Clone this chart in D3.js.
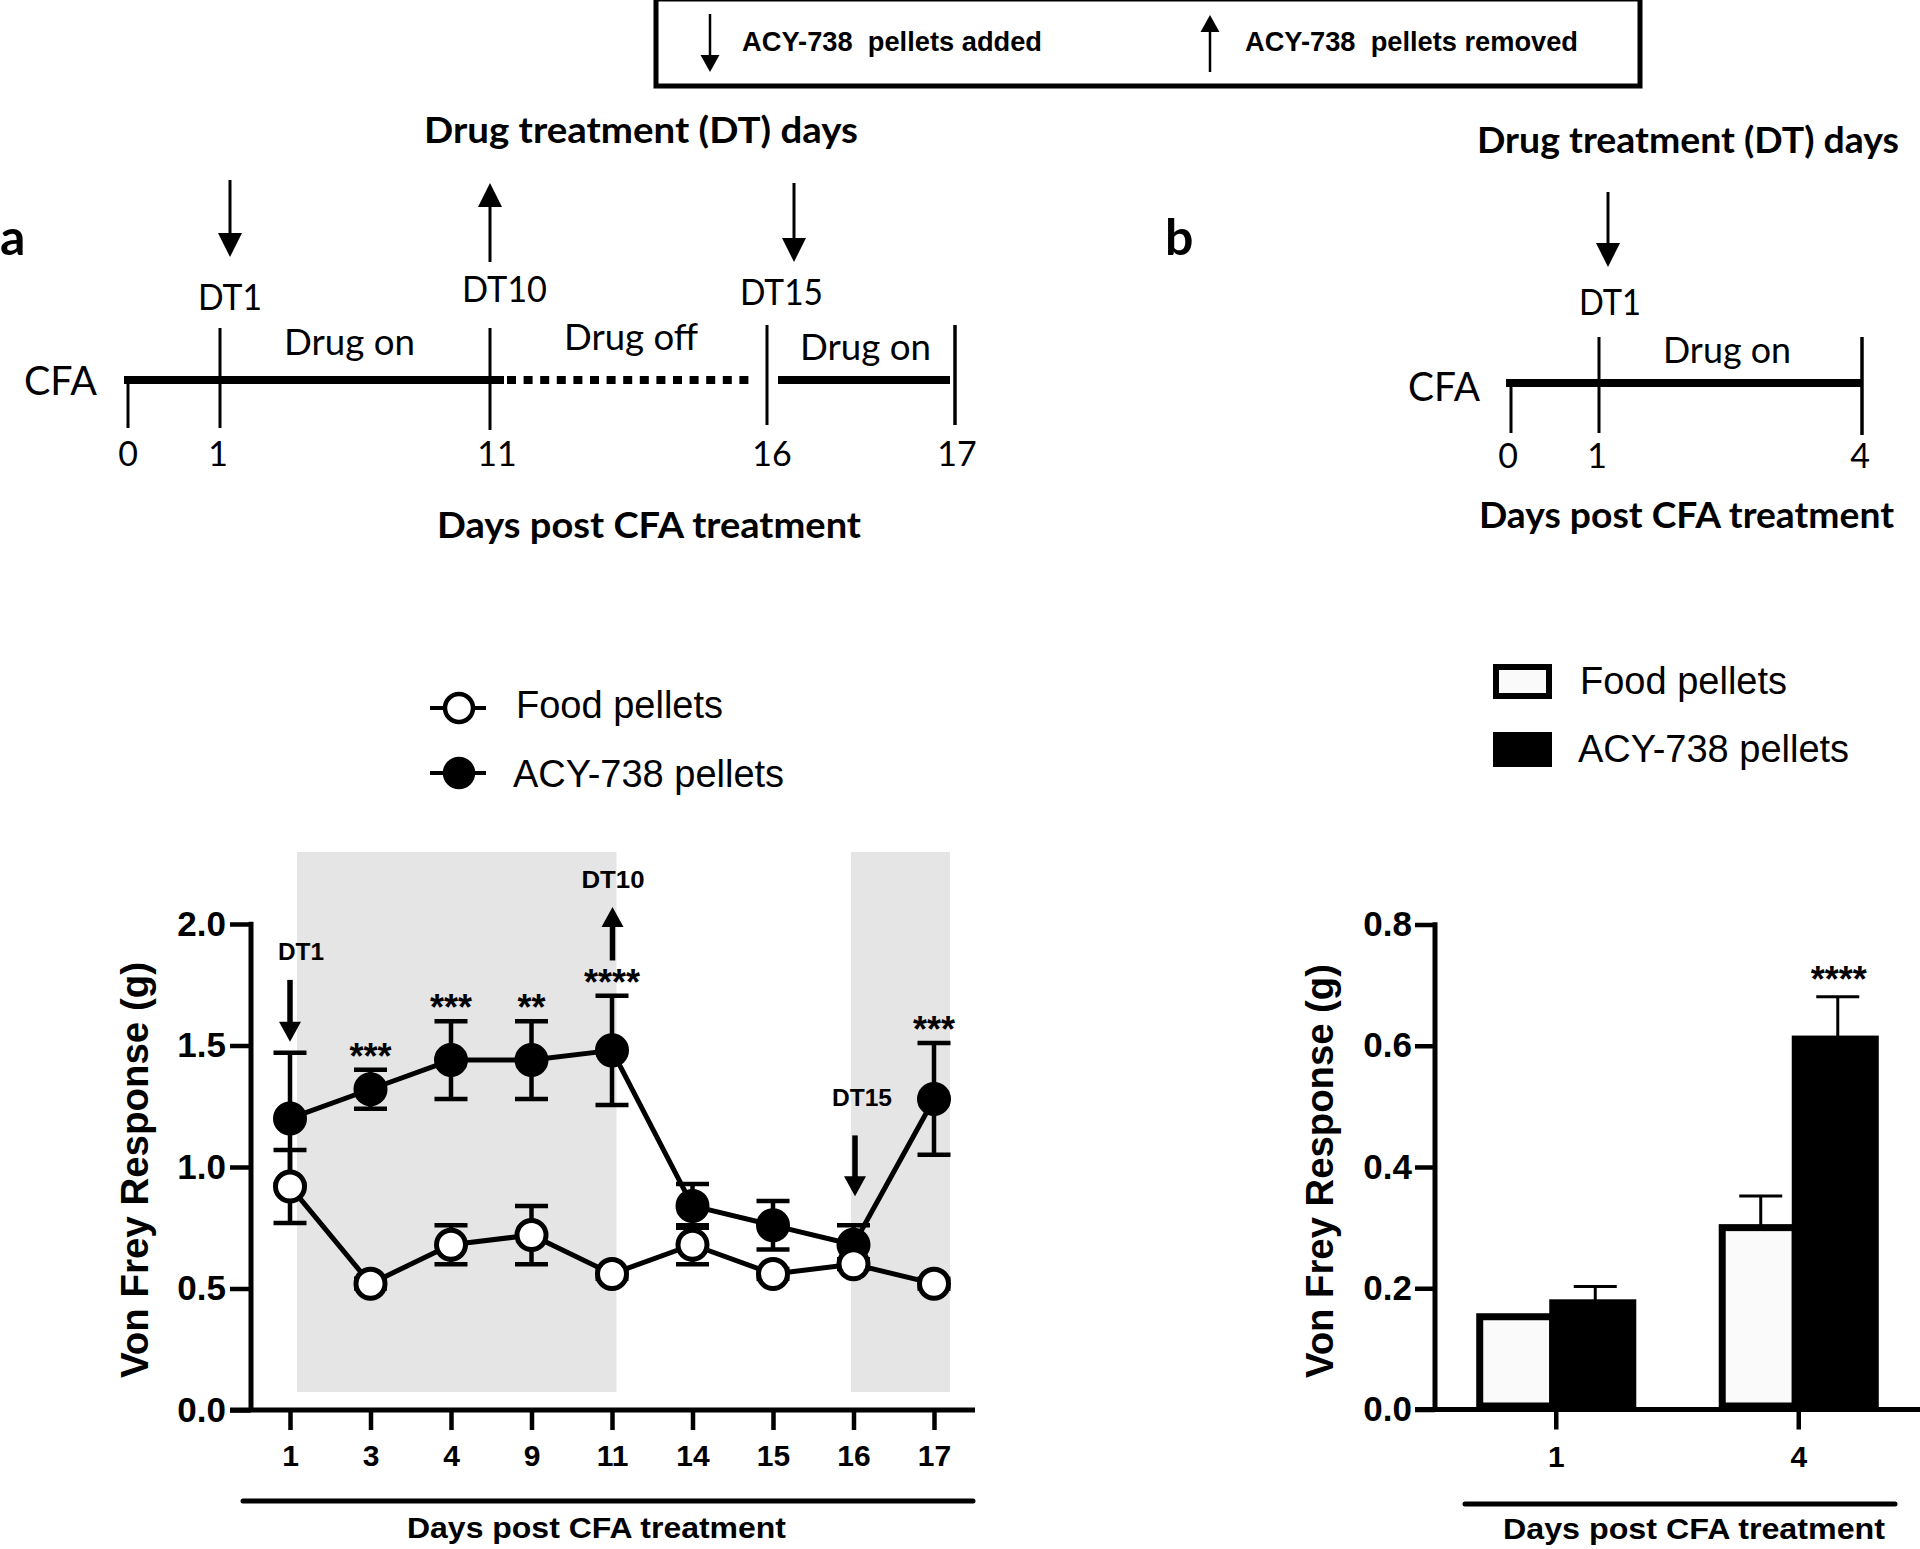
<!DOCTYPE html>
<html><head><meta charset="utf-8">
<script src="https://cdn.jsdelivr.net/npm/d3@7"></script>
<style>body{margin:0;background:#fff}svg{display:block}</style>
</head><body>
<svg id="c" width="1920" height="1549"></svg>
<script>
// ---------------- data ----------------
// Panel a (line chart)
const daysA = ["1","3","4","9","11","14","15","16","17"];
const foodMeanA = [0.92, 0.52, 0.68, 0.72, 0.56, 0.68, 0.56, 0.60, 0.52];
const foodSemA  = [0.15, 0.02, 0.08, 0.12, 0.02, 0.08, 0.02, 0.02, 0.02];
const acyMeanA  = [1.20, 1.32, 1.44, 1.44, 1.48, 0.84, 0.76, 0.68, 1.28];
const acySemA   = [0.27, 0.08, 0.16, 0.16, 0.225, 0.09, 0.10, 0.08, 0.23];
const sigA      = ["", "***", "***", "**", "****", "", "", "", "***"];
const yTicksA   = [0, 0.5, 1.0, 1.5, 2.0];
const drugOnA   = [["1","11"], ["16","17"]];
const annotA = [
  {day:"1",  label:"DT1",  dir:"down", yText:1.85, yFrom:1.77, yTo:1.515},
  {day:"11", label:"DT10", dir:"up",   yText:2.15, yFrom:1.85, yTo:2.07},
  {day:"16", label:"DT15", dir:"down", yText:1.25, yFrom:1.13, yTo:0.88}
];
// Panel b (bar chart)
const daysB     = ["1","4"];
const foodMeanB = [0.153, 0.30];
const foodSemB  = [0.0, 0.052];
const acyMeanB  = [0.176, 0.611];
const acySemB   = [0.027, 0.07];
const sigB      = ["", "****"];
const yTicksB   = [0, 0.2, 0.4, 0.6, 0.8];
// Timelines
const tlDaysA = [0, 1, 11, 16, 17];
const tlDaysB = [0, 1, 4];
const seriesNames = ["Food pellets", "ACY-738 pellets"];

// ---------------- helpers ----------------
const ARIAL = "'Liberation Sans', Arial, Helvetica, sans-serif";
const CAL = "Lato, 'Noto Sans', sans-serif";
const svg = d3.select("#c");

function txt(g, s, x, y, o = {}) {
  const t = g.append("text").attr("x", x).attr("y", y).text(s)
    .attr("font-family", o.family || ARIAL)
    .attr("font-size", o.size || 30)
    .attr("font-weight", o.weight || "normal")
    .attr("text-anchor", o.anchor || "start")
    .attr("fill", "#000");
  if (o.len) t.attr("textLength", o.len).attr("lengthAdjust", "spacingAndGlyphs");
  return t;
}
function arrow(g, x, yTail, yTip, headLen, headW, sw) {
  const dir = Math.sign(yTip - yTail);
  g.append("line").attr("x1", x).attr("x2", x)
    .attr("y1", yTail).attr("y2", yTip - dir * headLen * 0.8)
    .attr("stroke", "#000").attr("stroke-width", sw);
  g.append("path")
    .attr("d", `M${x - headW/2},${yTip - dir*headLen} L${x + headW/2},${yTip - dir*headLen} L${x},${yTip} Z`)
    .attr("fill", "#000");
}
function vline(g, x, y1, y2, sw) {
  g.append("line").attr("x1", x).attr("x2", x).attr("y1", y1).attr("y2", y2)
    .attr("stroke", "#000").attr("stroke-width", sw);
}
function hline(g, x1, x2, y, sw, cap) {
  return g.append("line").attr("x1", x1).attr("x2", x2).attr("y1", y).attr("y2", y)
    .attr("stroke", "#000").attr("stroke-width", sw).attr("stroke-linecap", cap || "butt");
}

// ---------------- top key box ----------------
const keyBox = svg.append("g");
keyBox.append("rect").attr("x", 656).attr("y", -1).attr("width", 984).attr("height", 87)
  .attr("fill", "#fff").attr("stroke", "#000").attr("stroke-width", 5);
arrow(keyBox, 710, 14, 72, 17, 19, 2.5);
txt(keyBox, "ACY-738\u00a0 pellets added", 742, 51, {size: 28, weight: "bold", len: 300});
arrow(keyBox, 1210, 72, 15, 17, 19, 2.5);
txt(keyBox, "ACY-738\u00a0 pellets removed", 1245, 51, {size: 28, weight: "bold", len: 333});

// ---------------- panel labels ----------------
txt(svg, "a", 0, 255, {family: CAL, size: 50, weight: "bold"});
txt(svg, "b", 1165, 255, {family: CAL, size: 50, weight: "bold"});

// ---------------- timeline a ----------------
(function () {
  const g = svg.append("g");
  const pos = d3.scaleOrdinal().domain(tlDaysA).range([128, 220, 490, 767, 955]);
  const yL = 380;
  txt(g, "Drug treatment (DT) days", 424, 143, {family: CAL, size: 37, weight: "bold", len: 434});
  txt(g, "CFA", 24, 395, {family: CAL, size: 40, len: 73});
  hline(g, pos(0) - 4, pos(11) + 14, yL, 8);
  hline(g, pos(11) + 17, pos(16) - 11, yL, 8).attr("stroke-dasharray", "9,7.6");
  hline(g, pos(16) + 11, pos(17) - 5, yL, 8);
  vline(g, pos(0), yL - 3, 428, 3);
  vline(g, pos(1), 328, 428, 3);
  vline(g, pos(11), 328, 430, 3);
  vline(g, pos(16), 325, 425, 3);
  vline(g, pos(17), 325, 425, 3.5);
  const numDx = {0: 0, 1: -2, 11: 7, 16: 5, 17: 2};
  tlDaysA.forEach(d => txt(g, String(d), pos(d) + numDx[d], 466, {family: CAL, size: 34, anchor: "middle"}));
  txt(g, "DT1", 198, 310, {family: CAL, size: 36, len: 64});
  txt(g, "DT10", 462, 302, {family: CAL, size: 36, len: 85});
  txt(g, "DT15", 740, 305, {family: CAL, size: 36, len: 83});
  arrow(g, 230, 180, 257, 24, 24, 3);
  arrow(g, 490, 262, 183, 24, 24, 3);
  arrow(g, 794, 183, 262, 24, 24, 3);
  txt(g, "Drug on", 284, 355, {family: CAL, size: 36, len: 131});
  txt(g, "Drug off", 564, 350, {family: CAL, size: 36, len: 134});
  txt(g, "Drug on", 800, 360, {family: CAL, size: 36, len: 131});
  txt(g, "Days post CFA treatment", 437, 538, {family: CAL, size: 37, weight: "bold", len: 424});
})();

// ---------------- timeline b ----------------
(function () {
  const g = svg.append("g");
  const pos = d3.scaleOrdinal().domain(tlDaysB).range([1511, 1599, 1862]);
  const yL = 383;
  txt(g, "Drug treatment (DT) days", 1477, 153, {family: CAL, size: 37, weight: "bold", len: 422});
  txt(g, "CFA", 1408, 401, {family: CAL, size: 40, len: 72});
  hline(g, pos(0) - 5, pos(4), yL, 8);
  vline(g, pos(0), yL, 433, 3);
  vline(g, pos(1), 337, 433, 3);
  vline(g, pos(4), 337, 435, 3.5);
  const numDx = {0: -3, 1: -2, 4: -2};
  tlDaysB.forEach(d => txt(g, String(d), pos(d) + numDx[d], 468, {family: CAL, size: 34, anchor: "middle"}));
  txt(g, "DT1", 1579, 315, {family: CAL, size: 36, len: 62});
  arrow(g, 1608, 192, 267, 24, 24, 3);
  txt(g, "Drug on", 1663, 363, {family: CAL, size: 36, len: 128});
  txt(g, "Days post CFA treatment", 1479, 528, {family: CAL, size: 37, weight: "bold", len: 415});
})();

// ---------------- panel a chart ----------------
(function () {
  const g = svg.append("g");
  const yA = d3.scaleLinear().domain([0, 2]).range([1410, 924]);
  const xA = d3.scalePoint().domain(daysA).range([290, 934]);

  const padL = [7, -2.5], padR = [4.5, 16];
  drugOnA.forEach((p, i) => {
    g.append("rect")
      .attr("x", xA(p[0]) + padL[i]).attr("width", xA(p[1]) + padR[i] - xA(p[0]) - padL[i])
      .attr("y", yA(2) - 72).attr("height", (yA(0) - 18) - (yA(2) - 72))
      .attr("fill", "#e5e5e5");
  });

  const ay = g.append("g").attr("transform", "translate(251,0)")
    .call(d3.axisLeft(yA).tickValues(yTicksA).tickFormat(d3.format(".1f")).tickSize(21).tickPadding(4));
  const ax = g.append("g").attr("transform", `translate(0,${yA(0)})`)
    .call(d3.axisBottom(xA).tickSize(20).tickPadding(15));
  [ay, ax].forEach(a => {
    a.select(".domain").remove();
    a.selectAll(".tick line").attr("stroke", "#000").attr("stroke-width", 4.5);
    a.selectAll(".tick text").attr("fill", "#000").attr("font-family", ARIAL).attr("font-weight", "bold");
  });
  ay.selectAll(".tick text").attr("font-size", 35);
  ax.selectAll(".tick text").attr("font-size", 30);
  vline(g, 251, yA(2) - 2.25, yA(0), 5);
  hline(g, 230, 975, yA(0), 5);

  txt(g.append("g").attr("transform", "translate(148,1170) rotate(-90)"),
      "Von Frey Response (g)", -208, 0, {size: 38, weight: "bold", len: 416});
  hline(g, 243, 973, 1501, 5, "round");
  txt(g, "Days post CFA treatment", 407, 1538, {size: 29, weight: "bold", len: 379});

  const series = [
    {mean: acyMeanA, sem: acySemA, fill: "#000"},
    {mean: foodMeanA, sem: foodSemA, fill: "#fff"}
  ];
  series.forEach(s => {
    daysA.forEach((d, i) => {
      const x = xA(d), lo = yA(s.mean[i] - s.sem[i]), hi = yA(s.mean[i] + s.sem[i]);
      vline(g, x, lo, hi, 4.5);
      hline(g, x - 16.5, x + 16.5, lo, 4.5);
      hline(g, x - 16.5, x + 16.5, hi, 4.5);
    });
  });
  const line = d3.line().x((d, i) => xA(daysA[i])).y(d => yA(d));
  series.forEach(s => {
    g.append("path").attr("d", line(s.mean)).attr("fill", "none")
      .attr("stroke", "#000").attr("stroke-width", 5).attr("stroke-linejoin", "round");
  });
  series.forEach(s => {
    g.append("g").selectAll("circle").data(s.mean).join("circle")
      .attr("cx", (d, i) => xA(daysA[i])).attr("cy", d => yA(d))
      .attr("r", 14.5).attr("fill", s.fill).attr("stroke", "#000").attr("stroke-width", 5);
  });
  daysA.forEach((d, i) => {
    if (sigA[i]) txt(g, sigA[i], xA(d), yA(acyMeanA[i] + acySemA[i]) - 1, {size: 36, weight: "bold", anchor: "middle"});
  });
  // annotation layout: text start offset, text width, arrow offset
  const tlay = {"DT1": [-12, 46, 0], "DT10": [-30.5, 63, 0.5], "DT15": [-21.5, 60, 1.5]};
  annotA.forEach(a => {
    const [dx, w, adx] = tlay[a.label];
    txt(g, a.label, xA(a.day) + dx, yA(a.yText), {size: 24, weight: "bold", len: w});
    arrow(g, xA(a.day) + adx, yA(a.yFrom), yA(a.yTo), 20, 22, 5.5);
  });

  const lg = g.append("g");
  [{y: 708, fill: "#fff", name: seriesNames[0], tx: 516, ty: 718},
   {y: 773, fill: "#000", name: seriesNames[1], tx: 513, ty: 787}].forEach(l => {
    hline(lg, 430, 486, l.y, 4);
    lg.append("circle").attr("cx", 459).attr("cy", l.y).attr("r", 14).attr("fill", l.fill)
      .attr("stroke", "#000").attr("stroke-width", 4.5);
    txt(lg, l.name, l.tx, l.ty, {size: 38});
  });
})();

// ---------------- panel b chart ----------------
(function () {
  const g = svg.append("g");
  const yB = d3.scaleLinear().domain([0, 0.8]).range([1409.5, 924.5]);
  const xB = d3.scaleBand().domain(daysB).range([1435, 1920]).paddingInner(0.34).paddingOuter(0.17);
  const xSub = d3.scaleBand().domain(["food", "acy"]).range([0, xB.bandwidth()]);
  const bw = xSub.bandwidth(), sw = 7;

  const ay = g.append("g").attr("transform", "translate(1435,0)")
    .call(d3.axisLeft(yB).tickValues(yTicksB).tickFormat(d3.format(".1f")).tickSize(20).tickPadding(3));
  const ax = g.append("g").attr("transform", `translate(0,${yB(0)})`)
    .call(d3.axisBottom(xB).tickSize(20).tickPadding(16));
  [ay, ax].forEach(a => {
    a.select(".domain").remove();
    a.selectAll(".tick line").attr("stroke", "#000").attr("stroke-width", 4.5);
    a.selectAll(".tick text").attr("fill", "#000").attr("font-family", ARIAL).attr("font-weight", "bold");
  });
  ay.selectAll(".tick text").attr("font-size", 35);
  ax.selectAll(".tick text").attr("font-size", 30);

  daysB.forEach((d, i) => {
    const b = xB(d);
    g.append("rect").attr("x", b + xSub("food") + sw/2).attr("width", bw - sw)
      .attr("y", yB(foodMeanB[i])).attr("height", yB(0) - yB(foodMeanB[i]) - sw/2)
      .attr("fill", "#fafafa").attr("stroke", "#000").attr("stroke-width", sw);
    g.append("rect").attr("x", b + xSub("acy") - sw/2).attr("width", bw)
      .attr("y", yB(acyMeanB[i])).attr("height", yB(0) - yB(acyMeanB[i]) - sw/2)
      .attr("fill", "#000").attr("stroke", "#000").attr("stroke-width", sw);
    [[xSub("food"), foodMeanB[i], foodSemB[i]], [xSub("acy"), acyMeanB[i], acySemB[i]]].forEach(([o, m, s]) => {
      if (s <= 0) return;
      const cx = b + o + bw / 2 + (o > 0 ? -1 : 2);
      vline(g, cx, yB(m), yB(m + s), 3);
      hline(g, cx - 21.5, cx + 21.5, yB(m + s), 3);
    });
    if (sigB[i]) txt(g, sigB[i], b + xSub("acy") + bw / 2, yB(acyMeanB[i] + acySemB[i]) - 5, {size: 36, weight: "bold", anchor: "middle"});
  });

  vline(g, 1435, yB(0.8) - 2.25, yB(0), 5);
  hline(g, 1415, 1920, yB(0), 5);

  txt(g.append("g").attr("transform", "translate(1333,1170) rotate(-90)"),
      "Von Frey Response (g)", -208, 0, {size: 38, weight: "bold", len: 414});
  hline(g, 1465, 1895, 1504, 5, "round");
  txt(g, "Days post CFA treatment", 1503, 1539, {size: 29, weight: "bold", len: 382});

  const lg = g.append("g");
  lg.append("rect").attr("x", 1496).attr("y", 667).attr("width", 53).attr("height", 29)
    .attr("fill", "#fafafa").attr("stroke", "#000").attr("stroke-width", 6);
  lg.append("rect").attr("x", 1493).attr("y", 732).attr("width", 59).attr("height", 35).attr("fill", "#000");
  txt(lg, seriesNames[0], 1580, 694, {size: 38});
  txt(lg, seriesNames[1], 1578, 762, {size: 38});
})();
</script>
</body></html>
